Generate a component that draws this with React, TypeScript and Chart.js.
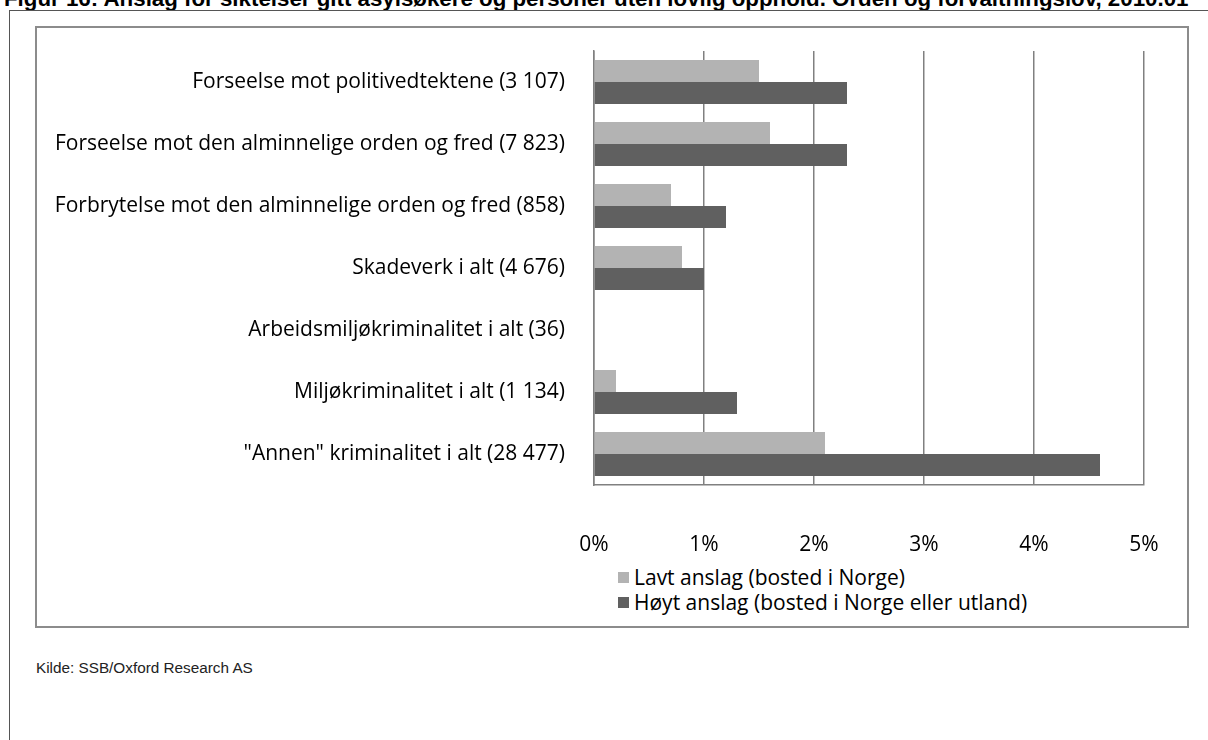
import React, { useEffect, useRef } from 'react';
import { Chart, registerables } from 'chart.js';

Chart.register(...registerables);

const titleText =
  'Figur 16: Anslag for siktelser gitt asylsøkere og personer uten lovlig opphold. Orden og forvaltningslov, 2010.01';
const sourceText = 'Kilde: SSB/Oxford Research AS';

const categories = [
  'Forseelse mot politivedtektene (3 107)',
  'Forseelse mot den alminnelige orden og fred (7 823)',
  'Forbrytelse mot den alminnelige orden og fred (858)',
  'Skadeverk i alt (4 676)',
  'Arbeidsmiljøkriminalitet i alt (36)',
  'Miljøkriminalitet i alt (1 134)',
  '"Annen" kriminalitet i alt (28 477)',
];

const seriesNames = ['Lavt anslag (bosted i Norge)', 'Høyt anslag (bosted i Norge eller utland)'];
const lowValues = [1.5, 1.6, 0.7, 0.8, 0, 0.2, 2.1];
const highValues = [2.3, 2.3, 1.2, 1.0, 0, 1.3, 4.6];
const seriesColors = ['#b3b3b3', '#606060'];
const xMin = 0;
const xMax = 5;
const xStep = 1;

const labelFont = '"Open Sans", Lato, sans-serif';
const labelSize = 21;

export default function App() {
  const ref = useRef<HTMLCanvasElement>(null);

  useEffect(() => {
    document.body.style.margin = '0';
    const chart = new Chart(ref.current as HTMLCanvasElement, {
      type: 'bar',
      data: {
        labels: categories,
        datasets: [
          {
            label: seriesNames[0],
            data: lowValues,
            backgroundColor: seriesColors[0],
            categoryPercentage: 0.71,
            barPercentage: 1,
          },
          {
            label: seriesNames[1],
            data: highValues,
            backgroundColor: seriesColors[1],
            categoryPercentage: 0.71,
            barPercentage: 1,
          },
        ],
      },
      options: {
        indexAxis: 'y',
        animation: false,
        responsive: false,
        maintainAspectRatio: false,
        layout: { padding: { top: 51, right: 64, bottom: 0, left: 0 } },
        plugins: { legend: { display: false }, tooltip: { enabled: false } },
        scales: {
          x: {
            min: xMin,
            max: xMax,
            ticks: {
              stepSize: xStep,
              callback: (v: any) => v + '%',
              padding: 47,
              color: '#000',
              font: { family: labelFont, size: labelSize },
            },
            grid: { color: '#808080', lineWidth: 1.5, drawTicks: false },
            border: { display: true, color: '#808080', width: 1.5 },
            afterFit: (s: any) => {
              s.height = 255;
            },
          },
          y: {
            ticks: {
              padding: 29,
              color: '#000',
              autoSkip: false,
              font: { family: labelFont, size: labelSize },
            },
            grid: { display: false, drawTicks: false },
            border: { display: true, color: '#808080', width: 1.5 },
            afterFit: (s: any) => {
              s.width = 594;
            },
          },
        },
      },
    });
    return () => chart.destroy();
  }, []);

  return (
    <div
      style={{
        position: 'fixed',
        left: 0,
        top: 0,
        width: 1208,
        height: 740,
        overflow: 'hidden',
        background: '#fff',
      }}
    >
      <div
        style={{
          position: 'absolute',
          left: 4,
          top: -14,
          whiteSpace: 'nowrap',
          fontFamily: '"Liberation Sans", Arial, sans-serif',
          fontWeight: 'bold',
          fontSize: 22.3,
          color: '#000',
          lineHeight: '26px',
        }}
      >
        {titleText}
      </div>
      <div
        style={{
          position: 'absolute',
          left: 9,
          top: 10,
          width: 1199,
          height: 730,
          borderTop: '1px solid #555',
          borderLeft: '1px solid #555',
          boxSizing: 'border-box',
        }}
      />
      <div
        style={{
          position: 'absolute',
          left: 35,
          top: 26,
          width: 1154,
          height: 602,
          border: '2px solid #8c8c8c',
          boxSizing: 'border-box',
        }}
      />
      <div
        style={{
          position: 'absolute',
          left: 36,
          top: 659,
          whiteSpace: 'nowrap',
          fontFamily: '"Liberation Sans", Arial, sans-serif',
          fontSize: 15.3,
          color: '#222',
        }}
      >
        {sourceText}
      </div>
      {seriesNames.map((name, i) => (
        <div
          key={name}
          style={{
            position: 'absolute',
            left: 618,
            top: 565 + i * 25,
            height: 24,
            display: 'flex',
            alignItems: 'center',
            whiteSpace: 'nowrap',
            fontFamily: labelFont,
            fontSize: labelSize,
            color: '#000',
          }}
        >
          <span
            style={{
              display: 'inline-block',
              width: 11,
              height: 11,
              background: seriesColors[i],
              marginRight: 5,
            }}
          />
          {name}
        </div>
      ))}
      <canvas
        ref={ref}
        width={1208}
        height={740}
        style={{ position: 'absolute', left: 0, top: 0 }}
      />
    </div>
  );
}
